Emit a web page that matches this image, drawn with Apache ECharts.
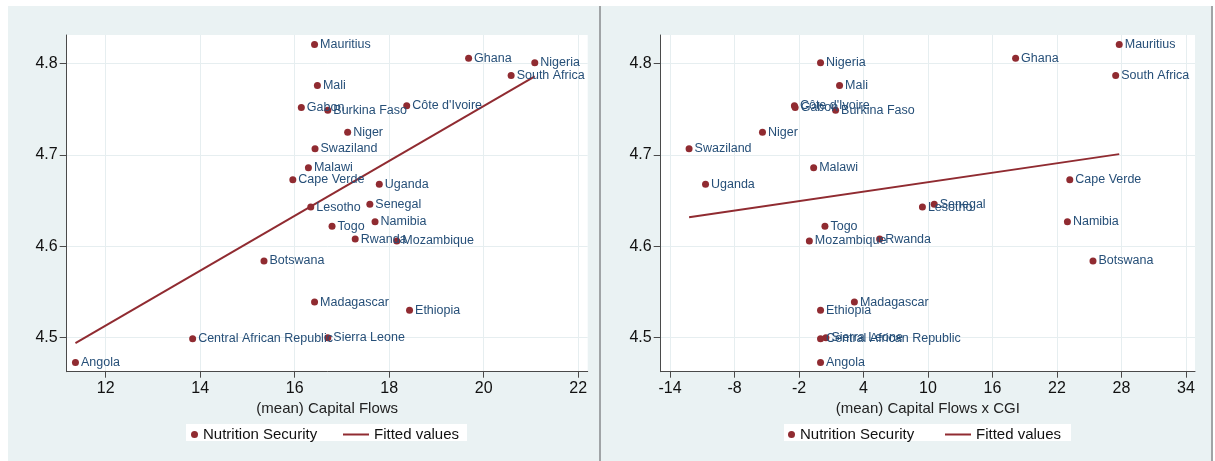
<!DOCTYPE html>
<html>
<head>
<meta charset="utf-8">
<script src="https://cdn.jsdelivr.net/npm/echarts@6/dist/echarts.min.js"></script>
<style>
  html, body { margin: 0; padding: 0; background: #ffffff; }
  #chart { width: 1215px; height: 461px; }
</style>
</head>
<body>
<div id="chart"></div>
<script>
// Country-level observations
const countries = ['Angola', 'Botswana', 'Burkina Faso', 'Cape Verde', 'Central African Republic',
  "Côte d'Ivoire", 'Ethiopia', 'Gabon', 'Ghana', 'Lesotho', 'Madagascar', 'Malawi', 'Mali',
  'Mauritius', 'Mozambique', 'Namibia', 'Niger', 'Nigeria', 'Rwanda', 'Senegal', 'Sierra Leone',
  'South Africa', 'Swaziland', 'Togo', 'Uganda'];

const nutritionSecurity = [4.473, 4.584, 4.749, 4.673, 4.499, 4.754, 4.530, 4.752, 4.806, 4.643,
  4.539, 4.686, 4.776, 4.821, 4.606, 4.627, 4.725, 4.801, 4.608, 4.646, 4.500, 4.787, 4.707,
  4.622, 4.668];

const capitalFlows = [11.36, 15.35, 16.70, 15.96, 13.84, 18.37, 18.43, 16.14, 19.68, 16.34,
  16.42, 16.29, 16.48, 16.42, 18.16, 17.70, 17.12, 21.08, 17.28, 17.59, 16.70, 20.58, 16.43,
  16.79, 17.79];

const capitalFlowsCGI = [0.0, 25.35, 1.40, 23.19, 0.0, -2.43, 0.0, -2.36, 18.15, 9.48,
  3.15, -0.64, 1.77, 27.79, -1.04, 22.97, -5.40, 0.0, 5.50, 10.58, 0.5, 27.46, -12.23,
  0.41, -10.70];

// Fitted-value lines (endpoints at the observed x range)
const fitCapitalFlows = [[11.36, 4.494], [21.08, 4.786]];
const fitCapitalFlowsCGI = [[-12.23, 4.632], [27.79, 4.701]];

// Axis tick values
const ticksLeftX = [12, 14, 16, 18, 20, 22];
const ticksRightX = [-14, -8, -2, 4, 10, 16, 22, 28, 34];
const ticksY = [4.5, 4.6, 4.7, 4.8];

const MARKER = '#902b31';
const LABEL = '#264f78';
const PANEL_BG = '#eaf2f3';
const GRID_LINE = '#e6eef0';
const AXIS = '#4a4a4a';
const FONT = '"Liberation Sans", Arial, sans-serif';

function points(xs) {
  return countries.map((c, i) => ({ name: c, value: [xs[i], nutritionSecurity[i]] }));
}

function xAxis(gridIndex, min, max, ticks, title) {
  return {
    type: 'value', gridIndex, min, max,
    name: title, nameLocation: 'middle', nameGap: 28,
    nameTextStyle: { color: '#222', fontSize: 15, fontFamily: FONT },
    axisLine: { show: true, onZero: false, lineStyle: { color: AXIS, width: 1 } },
    axisTick: { show: true, length: 6, customValues: ticks, lineStyle: { color: AXIS } },
    axisLabel: { customValues: ticks, margin: 9, color: '#111', fontSize: 16, fontFamily: FONT },
    splitLine: { show: true, lineStyle: { color: GRID_LINE, width: 1 } }
  };
}

function yAxis(gridIndex) {
  return {
    type: 'value', gridIndex, min: 4.4628, max: 4.8314,
    axisLine: { show: true, onZero: false, lineStyle: { color: AXIS, width: 1 } },
    axisTick: { show: true, length: 7, customValues: ticksY, lineStyle: { color: AXIS } },
    axisLabel: {
      customValues: ticksY, margin: 9, color: '#111', fontSize: 16, fontFamily: FONT,
      formatter: v => v.toFixed(1)
    },
    splitLine: { show: true, lineStyle: { color: GRID_LINE, width: 1 } }
  };
}

function scatter(idx, xs) {
  return {
    name: 'Nutrition Security', type: 'scatter', xAxisIndex: idx, yAxisIndex: idx,
    symbol: 'circle', symbolSize: 7,
    itemStyle: { color: MARKER, opacity: 1 },
    label: {
      show: true, position: 'right', distance: 2, formatter: '{b}',
      color: LABEL, fontSize: 12.5, fontFamily: FONT
    },
    labelLayout: { hideOverlap: false },
    emphasis: { disabled: true },
    data: points(xs), z: 3
  };
}

function fit(idx, data) {
  return {
    name: 'Fitted values', type: 'line', xAxisIndex: idx, yAxisIndex: idx,
    showSymbol: false, symbol: 'none',
    lineStyle: { color: MARKER, width: 2 },
    itemStyle: { color: MARKER },
    emphasis: { disabled: true },
    data, z: 2
  };
}

function legendPair(dotLeft, lineLeft) {
  const text = { color: '#111', fontSize: 15, fontFamily: FONT };
  return [
    {
      data: [{ name: 'Nutrition Security', icon: 'circle' }],
      left: dotLeft, top: 427, padding: 0, itemWidth: 7, itemHeight: 7, itemGap: 0,
      textStyle: text, selectedMode: false, z: 5
    },
    {
      data: [{ name: 'Fitted values', icon: 'rect' }],
      left: lineLeft, top: 427, padding: 0, itemWidth: 26, itemHeight: 2, itemGap: 0,
      textStyle: text, selectedMode: false, z: 5
    }
  ];
}

const chart = echarts.init(document.getElementById('chart'), null, { renderer: 'canvas' });

chart.setOption({
  animation: false,
  backgroundColor: '#ffffff',
  graphic: [
    { type: 'rect', z: -10, shape: { x: 8, y: 6, width: 591, height: 455 }, style: { fill: PANEL_BG } },
    { type: 'rect', z: -10, shape: { x: 601, y: 6, width: 610, height: 455 }, style: { fill: PANEL_BG } },
    { type: 'rect', z: -9, shape: { x: 599, y: 6, width: 2, height: 455 }, style: { fill: '#a0a4a6' } },
    { type: 'rect', z: -9, shape: { x: 1211, y: 6, width: 2, height: 455 }, style: { fill: '#a0a4a6' } },
    { type: 'rect', z: 1, shape: { x: 186, y: 424, width: 281, height: 17 }, style: { fill: '#ffffff' } },
    { type: 'rect', z: 1, shape: { x: 784, y: 424, width: 287, height: 17 }, style: { fill: '#ffffff' } }
  ],
  grid: [
    { left: 66.7, top: 35, width: 521, height: 336.7, show: true, backgroundColor: '#ffffff', borderWidth: 0 },
    { left: 660.7, top: 35, width: 534.3, height: 336.7, show: true, backgroundColor: '#ffffff', borderWidth: 0 }
  ],
  xAxis: [
    xAxis(0, 11.175, 22.2, ticksLeftX, '(mean) Capital Flows'),
    xAxis(1, -14.87, 34.84, ticksRightX, '(mean) Capital Flows x CGI')
  ],
  yAxis: [yAxis(0), yAxis(1)],
  legend: [...legendPair(191, 343), ...legendPair(788, 945)],
  series: [
    fit(0, fitCapitalFlows),
    scatter(0, capitalFlows),
    fit(1, fitCapitalFlowsCGI),
    scatter(1, capitalFlowsCGI)
  ]
});
</script>
</body>
</html>
